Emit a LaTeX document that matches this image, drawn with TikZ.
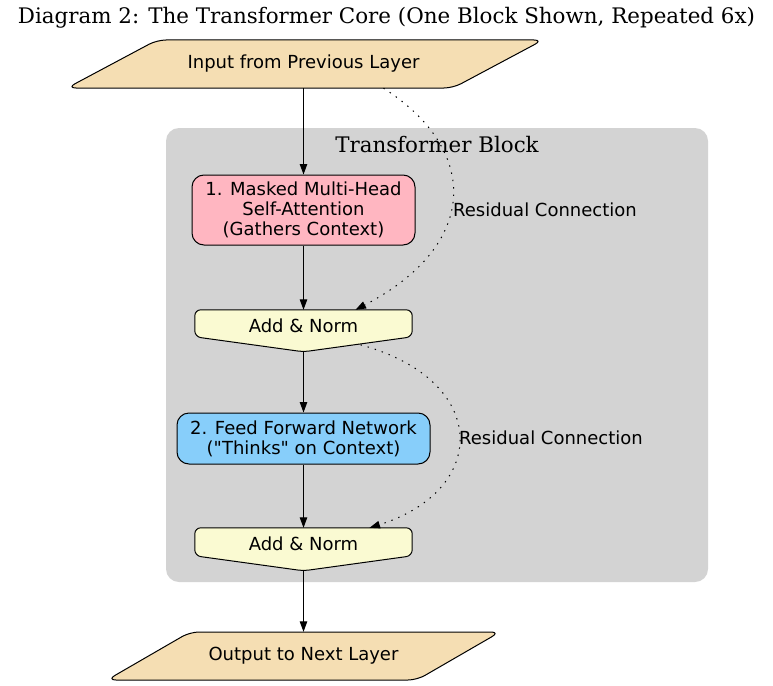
\documentclass[tikz,border=0pt]{standalone}
\usepackage{fontspec}
\setmainfont{DejaVu Serif}
\setsansfont{DejaVu Sans}
\usetikzlibrary{arrows.meta,calc}
\pgfdeclarelayer{back}
\pgfdeclarelayer{mid}
\pgfsetlayers{back,mid,main}
\definecolor{wheatc}{HTML}{F5DEB3}
\definecolor{pinkc}{HTML}{FFB6C1}
\definecolor{goldc}{HTML}{FAFAD2}
\definecolor{skyc}{HTML}{87CEFA}
\definecolor{grayc}{HTML}{D3D3D3}
\begin{document}
\begin{tikzpicture}[x=1pt,y=-1pt,
  lbl/.style={font=\sffamily\fontsize{18}{20}\selectfont, inner sep=0pt, align=center},
  serifl/.style={font=\rmfamily\fontsize{21.4}{25}\selectfont, inner sep=0pt},
  boxnode/.style={lbl, draw=black, line width=1pt, rounded corners=12pt},
  shapeline/.style={draw=black, line width=1pt},
  edge/.style={-{Triangle[length=10.5pt,width=7.5pt]}, line width=1pt},
  resid/.style={edge, dash pattern=on 1.4pt off 6pt},
]
\useasboundingbox (0,0) rectangle (773,685);

% title
\node[serifl] (title) at (386.5,18) {Diagram 2: The Transformer Core (One Block Shown, Repeated 6x)};

% cluster
\begin{pgfonlayer}{back}
\node[fill=grayc, rounded corners=13pt, minimum width=542pt, minimum height=454pt, inner sep=0pt] (block) at (437,355) {};
\end{pgfonlayer}
\node[serifl] (blocklbl) at (437,145) {Transformer Block};

% input
\node[lbl, minimum height=48pt] (in) at (303.5,64) {Input from Previous Layer};
\begin{pgfonlayer}{mid}
\draw[shapeline, fill=wheatc, rounded corners=9pt]
  ($(in.center)+(-146.5,-24)$) -- ($(in.center)+(239.5,-24)$) --
  ($(in.center)+(149.5,24)$) -- ($(in.center)+(-236.5,24)$) -- cycle;
\end{pgfonlayer}

% MHA
\node[boxnode, fill=pinkc, minimum width=223pt, minimum height=70pt] (mha) at (303.5,210)
  {1. Masked Multi-Head\\Self-Attention\\(Gathers Context)};

% Add & Norm 1
\node[lbl, minimum width=217pt, minimum height=32pt] (add1) at (303.5,326) {Add \& Norm};
\coordinate (add1tip) at ($(add1.north)+(0,42)$);
\begin{pgfonlayer}{mid}
\draw[shapeline, fill=goldc, rounded corners=6pt]
  (add1.north west) -- (add1.north east) -- ($(add1.north east)+(0,27)$) --
  (add1tip) -- ($(add1.north west)+(0,27)$) -- cycle;
\end{pgfonlayer}

% FFN
\node[boxnode, fill=skyc, minimum width=253pt, minimum height=51pt] (ffn) at (303.5,438.5)
  {2. Feed Forward Network\\(\textquotedbl Thinks\textquotedbl\ on Context)};

% Add & Norm 2
\node[lbl, minimum width=217pt, minimum height=32pt] (add2) at (303.5,544) {Add \& Norm};
\coordinate (add2tip) at ($(add2.north)+(0,43)$);
\begin{pgfonlayer}{mid}
\draw[shapeline, fill=goldc, rounded corners=6pt]
  (add2.north west) -- (add2.north east) -- ($(add2.north east)+(0,28)$) --
  (add2tip) -- ($(add2.north west)+(0,28)$) -- cycle;
\end{pgfonlayer}

% output
\node[lbl, minimum height=48pt] (out) at (303.5,656) {Output to Next Layer};
\begin{pgfonlayer}{mid}
\draw[shapeline, fill=wheatc, rounded corners=9pt]
  ($(out.center)+(-113.5,-24)$) -- ($(out.center)+(196.5,-24)$) --
  ($(out.center)+(113.5,24)$) -- ($(out.center)+(-196.5,24)$) -- cycle;
\end{pgfonlayer}

% main edges
\draw[edge] (in.south) -- (mha.north);
\draw[edge] (mha.south) -- (add1.north);
\draw[edge] (add1tip) -- (ffn.north);
\draw[edge] (ffn.south) -- (add2.north);
\draw[edge] (add2tip) -- (out.north);

% residual connections
\coordinate (r1s) at ($(in.south)+(80,0)$);
\coordinate (r1e) at ($(add1.north)+(52,0)$);
\draw[resid] (r1s) .. controls (480,150) and (480,245) .. (r1e);
\node[lbl, anchor=west] (r1lbl) at (453,210) {Residual Connection};

\coordinate (r2s) at ($(add1tip)+(57,-7)$);
\coordinate (r2e) at ($(add2.north)+(66,0)$);
\draw[resid] (r2s) .. controls (490,380) and (490,490) .. (r2e);
\node[lbl, anchor=west] (r2lbl) at (459,438) {Residual Connection};
\end{tikzpicture}
\end{document}
